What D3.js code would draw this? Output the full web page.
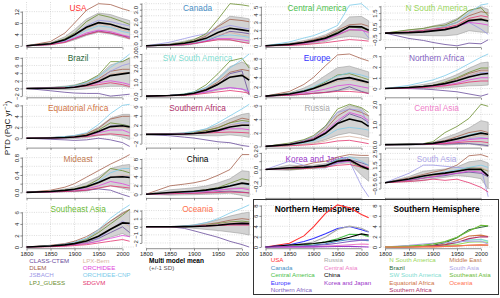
<!DOCTYPE html>
<html>
<head>
<meta charset="utf-8">
<script src="https://cdn.jsdelivr.net/npm/d3@7"></script>
<style>
  body { margin: 0; background: #fff; }
  svg { display: block; font-family: "Liberation Sans", Arial, sans-serif; }
</style>
</head>
<body>
<div id="chart"></div>
<script>
var years = [1800, 1850, 1880, 1900, 1925, 1950, 1975, 2000, 2015];
var xTicks = [1800, 1850, 1900, 1950, 2000];

var models = ["CLASS-CTEM", "DLEM", "JSBACH", "LPJ_GUESS", "LPX-Bern", "ORCHIDEE", "ORCHIDEE-CNP", "SDGVM"];
var modelColors = ["#6a4c9c", "#a5614d", "#9c98e6", "#6b8e2e", "#d8b4a2", "#e046dc", "#7ecbea", "#e3356f"];

var regionNames = ["USA", "Canada", "Central America", "N South America",
  "Brazil", "SW South America", "Europe", "Northern Africa",
  "Equatorial Africa", "Southern Africa", "Russia", "Central Asia",
  "Mideast", "China", "Korea and Japan", "South Asia",
  "Southeast Asia", "Oceania"];
var regionColors = ["#ff3030", "#4a90c6", "#4cbf4c", "#9ad65c",
  "#2e6a3c", "#7fdcd0", "#3434ff", "#8462c2",
  "#cf7444", "#b0306a", "#a8a8a8", "#ee80c8",
  "#c27a50", "#000000", "#9a36c8", "#aea6e6",
  "#6cbb36", "#ff7350"];

// PTD (PgC/yr) per region, one row per model in the order of `models`
var usa = [
  [0, 0.5, 1.5, 2.5, 4.0, 5.2, 4.5, 3.5, 3.0],
  [0, 1.5, 4.5, 8.0, 12.5, 14.8, 14.5, 13.0, 12.3],
  [0, 0.8, 2.2, 4.0, 7.0, 9.0, 8.5, 7.5, 7.0],
  [0, 0.8, 2.5, 4.5, 8.5, 11.0, 10.0, 8.5, 7.5],
  [0, 0.7, 2.0, 3.5, 6.0, 7.5, 7.0, 5.5, 5.0],
  [0, 0.5, 1.5, 2.8, 4.5, 5.5, 5.0, 3.8, 3.2],
  [0, 0.6, 1.8, 3.2, 5.5, 7.0, 6.5, 5.0, 4.5],
  [0, 0.4, 1.2, 2.5, 4.0, 5.0, 4.5, 3.5, 2.5]
];
var canada = [
  [0, 0.05, 0.1, 0.2, 0.4, 0.8, 1.2, 1.1, 1.0],
  [0, 0.1, 0.2, 0.4, 0.8, 1.6, 2.2, 2.1, 2.0],
  [0, 0.3, 0.6, 0.8, 1.0, 1.4, 1.7, 1.5, 1.4],
  [0, 0.1, 0.3, 0.5, 1.0, 2.2, 3.5, 3.4, 3.3],
  [0, 0.05, 0.15, 0.3, 0.5, 0.9, 1.1, 0.9, 0.8],
  [0, 0.05, 0.1, 0.2, 0.4, 0.6, 0.6, 0.5, 0.4],
  [0, 0.05, 0.15, 0.25, 0.5, 0.8, 0.9, 0.8, 0.7],
  [0, 0.05, 0.1, 0.2, 0.35, 0.5, 0.5, 0.3, 0.2]
];
var centralAmerica = [
  [0, 0.1, 0.3, 0.5, 0.8, 1.4, 2.0, 2.0, 1.8],
  [0, 0.2, 0.5, 0.8, 1.2, 2.0, 2.7, 2.8, 2.5],
  [0, 0.2, 0.4, 0.6, 1.0, 1.7, 2.5, 2.2, 1.0],
  [0, 0.2, 0.4, 0.6, 1.0, 1.8, 2.4, 2.3, 2.0],
  [0, 0.1, 0.3, 0.5, 0.8, 1.3, 2.0, 2.0, 1.8],
  [0, 0.1, 0.3, 0.5, 0.8, 1.4, 2.1, 2.0, 1.7],
  [0, 0.5, 1.0, 1.3, 1.9, 2.6, 5.2, 5.4, 4.6],
  [0, 0.05, 0.15, 0.25, 0.4, 0.6, 0.8, 0.7, 0.6]
];
var nSouthAmerica = [
  [0, -0.4, -0.55, -0.7, -0.85, -0.95, -0.75, -0.8, -0.5],
  [0, 0.1, 0.2, 0.3, 0.5, 0.8, 1.3, 1.6, 1.5],
  [0, 0.05, 0.1, 0.2, 0.3, 0.5, 0.8, 0.3, -0.1],
  [0, 0.25, 0.35, 0.5, 0.6, 1.0, 1.7, 1.9, 1.3],
  [0, 0.05, 0.15, 0.25, 0.35, 0.6, 1.0, 1.1, 1.0],
  [0, 0.05, 0.1, 0.2, 0.3, 0.5, 0.8, 0.7, 0.6],
  [0, 0.1, 0.2, 0.3, 0.5, 0.8, 1.5, 2.1, 2.2],
  [0, 0.1, 0.2, 0.3, 0.4, 0.6, 1.1, 1.3, 1.2]
];
var brazil = [
  [0, -0.6, -1.0, -1.2, -1.3, -1.3, -2.0, -1.7, -1.5],
  [0, 0.1, 0.3, 0.6, 1.2, 2.5, 4.5, 5.0, 5.0],
  [0, 0.1, 0.3, 0.5, 1.0, 2.0, 4.5, 6.0, 6.5],
  [0, 0.2, 0.4, 0.7, 1.8, 3.5, 7.0, 7.0, 8.0],
  [0, 0.1, 0.3, 0.5, 1.0, 2.2, 3.8, 4.2, 4.0],
  [0, 0.1, 0.2, 0.4, 0.8, 1.5, 2.0, 1.5, 1.0],
  [0, 0.2, 0.4, 0.7, 1.5, 3.0, 5.5, 7.5, 9.0],
  [0, 0.1, 0.2, 0.3, 0.6, 1.0, 1.5, 1.0, 0.5]
];
var swSouthAmerica = [
  [0, 0.05, 0.1, 0.2, 0.4, 0.8, 1.6, 1.8, 0.1],
  [0, 0.05, 0.1, 0.2, 0.5, 1.0, 1.7, 1.9, 1.8],
  [0, 0.05, 0.1, 0.15, 0.3, 0.5, 0.6, 0.5, 0.4],
  [0, 0.05, 0.15, 0.3, 0.8, 1.6, 2.5, 2.7, 2.0],
  [0, 0.05, 0.1, 0.2, 0.4, 0.9, 1.4, 1.5, 1.3],
  [0, 0.05, 0.1, 0.15, 0.3, 0.5, 0.6, 0.5, 0.3],
  [0, 0.05, 0.15, 0.3, 0.6, 1.2, 2.0, 2.6, 3.0],
  [0, 0.03, 0.05, 0.1, 0.2, 0.3, 0.4, 0.3, 0.2]
];
var europe = [
  [0, 0.2, 0.4, 0.6, 0.8, 1.2, 2.0, 1.0, 0.5],
  [0, 1.0, 2.5, 4.0, 6.5, 8.8, 9.0, 8.0, 7.5],
  [0, 0.4, 1.0, 1.5, 2.5, 3.5, 3.8, 3.2, 3.0],
  [0, 0.5, 1.2, 1.8, 3.0, 4.5, 4.8, 4.0, 3.5],
  [0, 0.4, 1.0, 1.5, 2.3, 3.2, 3.5, 3.0, 2.6],
  [0, 0.3, 0.7, 1.0, 1.5, 2.2, 2.5, 2.0, 1.7],
  [0, 0.5, 1.2, 2.0, 3.2, 4.3, 5.0, 4.5, 4.0],
  [0, 0.2, 0.4, 0.6, 0.8, 1.0, 1.0, 0.8, 0.6]
];
var northernAfrica = [
  [0, 0, -0.05, -0.1, -0.2, -0.3, -0.5, -0.7, -0.5],
  [0, 0.1, 0.2, 0.3, 0.5, 0.9, 1.4, 1.7, 1.7],
  [0, 0.1, 0.2, 0.3, 0.5, 0.8, 1.2, 1.5, 1.5],
  [0, 0.1, 0.2, 0.3, 0.6, 1.0, 1.5, 1.9, 1.9],
  [0, 0.1, 0.2, 0.3, 0.5, 0.8, 1.2, 1.6, 1.6],
  [0, 0.05, 0.1, 0.2, 0.3, 0.5, 0.8, 1.0, 1.0],
  [0, 0.3, 0.6, 0.8, 1.2, 1.7, 2.3, 2.9, 3.2],
  [0, 0.05, 0.1, 0.15, 0.25, 0.4, 0.6, 0.7, 0.7]
];
var equatorialAfrica = [
  [0, -0.2, -0.3, -0.4, -0.3, 0.0, -0.3, -0.8, -1.5],
  [0, 0.1, 0.2, 0.4, 0.8, 1.8, 3.5, 4.0, 4.0],
  [0, 0.1, 0.2, 0.3, 0.5, 1.2, 2.2, 2.5, 2.2],
  [0, 0.1, 0.2, 0.3, 0.6, 1.5, 2.8, 2.5, 2.2],
  [0, 0.1, 0.2, 0.3, 0.6, 1.3, 2.0, 2.0, 1.8],
  [0, 0.05, 0.1, 0.2, 0.4, 1.0, 1.5, 1.5, 1.0],
  [0, 0.1, 0.3, 0.5, 1.0, 2.5, 4.5, 6.0, 6.2],
  [0, 0.05, 0.1, 0.2, 0.3, 0.6, 0.8, 0.6, 0.4]
];
var southernAfrica = [
  [0, -0.3, -0.6, -0.8, -1.2, -1.6, -1.8, -2.4, -2.6],
  [0, 0.1, 0.2, 0.4, 0.8, 1.5, 2.5, 3.5, 3.2],
  [0, 0.1, 0.2, 0.3, 0.6, 1.0, 2.0, 2.5, 2.5],
  [0, 0.1, 0.2, 0.4, 0.8, 1.4, 2.5, 3.0, 2.8],
  [0, 0.1, 0.2, 0.3, 0.6, 1.0, 2.0, 2.2, 2.0],
  [0, 0.05, 0.1, 0.2, 0.4, 0.7, 1.2, 1.2, 1.0],
  [0, 0.1, 0.3, 0.6, 1.2, 2.5, 4.0, 5.5, 6.5],
  [0, 0.05, 0.1, 0.15, 0.3, 0.4, 0.5, 0.4, 0.3]
];
var russia = [
  [0, 0.3, 0.7, 1.0, 2.0, 3.5, 4.8, 4.2, 3.5],
  [0, 0.3, 0.8, 1.2, 2.5, 4.5, 5.5, 5.0, 4.5],
  [0, 0.4, 0.9, 1.4, 3.0, 5.0, 5.5, 5.3, 3.0],
  [0, 0.5, 1.0, 1.6, 3.0, 5.5, 6.2, 5.7, 5.0],
  [0, 0.1, 0.3, 0.4, 0.8, 1.3, 1.5, 1.2, 1.0],
  [0, 0.3, 0.7, 1.1, 2.2, 3.8, 5.0, 4.5, 3.8],
  [0, 0.2, 0.5, 0.8, 1.5, 2.5, 2.8, 2.6, 2.4],
  [0, 0.1, 0.2, 0.3, 0.5, 0.8, 0.9, 0.6, 0.4]
];
var centralAsia = [
  [0, 0, 0, 0.02, 0.03, 0.05, 0.05, 0.0, -0.05],
  [0, 0.02, 0.05, 0.1, 0.2, 0.4, 0.6, 0.7, 0.6],
  [0, 0.01, 0.03, 0.05, 0.1, 0.2, 0.3, 0.35, 0.3],
  [0, 0.02, 0.05, 0.15, 0.6, 0.9, 1.3, 2.0, 1.9],
  [0, 0.01, 0.03, 0.05, 0.1, 0.2, 0.35, 0.45, 0.45],
  [0, 0.01, 0.02, 0.04, 0.08, 0.15, 0.25, 0.3, 0.3],
  [0, 0.02, 0.04, 0.08, 0.15, 0.3, 0.5, 0.6, 0.5],
  [0, 0.01, 0.02, 0.03, 0.05, 0.1, 0.15, 0.15, 0.1]
];
var mideast = [
  [0, 0.01, 0.02, 0.03, 0.05, 0.08, 0.05, -0.05, -0.1],
  [0, 0.05, 0.12, 0.2, 0.35, 0.5, 0.65, 0.78, 0.87],
  [0, 0.02, 0.04, 0.06, 0.12, 0.22, 0.35, 0.38, 0.35],
  [0, 0.02, 0.05, 0.08, 0.15, 0.3, 0.55, 0.5, 0.45],
  [0, 0.02, 0.04, 0.06, 0.1, 0.2, 0.35, 0.4, 0.38],
  [0, 0.01, 0.03, 0.05, 0.08, 0.15, 0.25, 0.2, 0.15],
  [0, 0.02, 0.04, 0.06, 0.12, 0.25, 0.45, 0.55, 0.55],
  [0, 0.01, 0.02, 0.03, 0.05, 0.1, 0.15, 0.12, 0.1]
];
var china = [
  [0, 0.1, 0.2, 0.3, 0.4, 0.6, 0.7, 0.5, 0.3],
  [0, 1.9, 2.3, 2.6, 3.2, 4.3, 5.6, 9.0, 9.0],
  [0, 0.2, 0.3, 0.4, 0.6, 0.9, 1.3, 1.5, 1.3],
  [0, 0.3, 0.5, 0.7, 1.0, 1.5, 2.5, 3.5, 3.2],
  [0, 0.2, 0.3, 0.4, 0.6, 0.8, 1.2, 1.5, 1.3],
  [0, 0.2, 0.3, 0.4, 0.6, 0.9, 1.2, 1.3, 1.0],
  [0, 0.2, 0.4, 0.5, 0.8, 1.2, 2.0, 2.5, 2.0],
  [0, 0.1, 0.2, 0.2, 0.3, 0.4, 0.5, 0.4, 0.3]
];
var koreaJapan = [
  [0, 0.01, 0.02, 0.03, 0.04, 0.08, 0.12, 0.08, 0.05],
  [0, 0.02, 0.05, 0.08, 0.1, 0.15, 0.18, 0.17, 0.17],
  [0, 0.1, 0.05, 0.02, 0.02, 0.08, 0.1, -0.2, -0.33],
  [0, 0, 0.01, 0.02, 0.03, 0.12, 0.1, 0.02, 0],
  [0, 0.01, 0.02, 0.03, 0.05, 0.1, 0.12, 0.05, 0.03],
  [0, 0.01, 0.02, 0.03, 0.05, 0.09, 0.1, 0.05, 0.02],
  [0, 0.01, 0.02, 0.03, 0.05, 0.12, 0.15, 0.1, 0.05],
  [0, 0.01, 0.01, 0.02, 0.03, 0.05, 0.06, 0.03, 0.02]
];
var southAsia = [
  [0, 0.2, 0.4, 0.5, 0.6, 0.8, 0.9, 0.8, 0.5],
  [0, 0.4, 0.7, 0.9, 1.1, 1.5, 2.3, 2.4, 2.2],
  [0, 0.8, 1.5, 1.5, 1.4, 1.3, 1.2, 1.3, -1.2],
  [0, 0.2, 0.4, 0.6, 0.8, 1.0, 1.3, 1.2, 1.0],
  [0, 0.3, 0.5, 0.6, 0.8, 1.0, 1.2, 1.3, 1.0],
  [0, 0.2, 0.4, 0.5, 0.7, 0.8, 1.0, 0.9, 0.6],
  [0, 0.3, 0.5, 0.7, 0.9, 1.1, 1.3, 1.5, 1.3],
  [0, 0.1, 0.2, 0.3, 0.2, 0.3, 0.0, -0.4, -0.8]
];
var southeastAsia = [
  [0, 0.2, 0.4, 0.5, 0.8, 1.5, 2.5, 3.5, 2.5],
  [0, 0.3, 0.6, 1.0, 1.8, 3.0, 4.5, 5.8, 6.5],
  [0, 0.2, 0.4, 0.6, 1.0, 1.5, 3.0, 4.5, 3.8],
  [0, 0.2, 0.4, 0.7, 1.3, 2.5, 4.0, 5.5, 6.5],
  [0, 0.1, 0.3, 0.5, 0.9, 1.8, 3.2, 4.3, 3.5],
  [0, 0.1, 0.2, 0.4, 0.6, 1.0, 1.5, 2.0, 1.8],
  [0, 0.2, 0.5, 0.8, 1.5, 3.0, 5.0, 6.5, 7.3],
  [0, 0.05, 0.15, 0.25, 0.4, 0.7, 1.0, 1.3, 1.0]
];
var oceania = [
  [0, 0, -0.2, -0.5, -0.9, -1.3, -1.8, -2.2, -2.5],
  [0, 0, 0.05, 0.1, 0.3, 0.5, 0.8, 1.0, 0.9],
  [0, 0, 0.05, 0.1, 0.2, 0.3, 0.4, 0.5, 0.4],
  [0, 0, 0.05, 0.1, 0.2, 0.4, 0.6, 0.7, 0.6],
  [0, 0, 0.05, 0.1, 0.2, 0.3, 0.5, 0.5, 0.5],
  [0, 0, 0.03, 0.05, 0.1, 0.2, 0.3, 0.3, 0.3],
  [0, 0, 0.1, 0.2, 0.5, 1.0, 1.7, 2.3, 2.7],
  [0, 0, 0.02, 0.04, 0.1, 0.15, 0.2, 0.2, 0.2]
];

var regionData = [usa, canada, centralAmerica, nSouthAmerica,
  brazil, swSouthAmerica, europe, northernAfrica,
  equatorialAfrica, southernAfrica, russia, centralAsia,
  mideast, china, koreaJapan, southAsia,
  southeastAsia, oceania];

// y tick values, decimals and label step for each region panel
var yTicks = [
  [0, 4, 8, 12], [0, 0.5, 1, 1.5, 2, 2.5, 3, 3.5], [0, 1, 2, 3, 4, 5], [-0.5, 0, 0.5, 1, 1.5, 2],
  [-2, 0, 2, 4, 6, 8], [0, 0.5, 1, 1.5, 2, 2.5, 3], [0, 2, 4, 6, 8], [0, 1, 2, 3],
  [0, 2, 4, 6], [-2, 0, 2, 4, 6], [0, 2, 4, 6], [0, 0.5, 1, 1.5, 2],
  [0, 0.2, 0.4, 0.6, 0.8], [0, 2, 4, 6, 8], [-0.2, -0.1, 0, 0.1, 0.2], [-0.5, 0, 0.5, 1, 1.5, 2, 2.5],
  [0, 2, 4, 6], [-2, -1, 0, 1, 2]
];
var yDigits = [0, 1, 0, 1, 0, 1, 0, 0, 0, 0, 0, 1, 1, 0, 1, 1, 0, 0];
var yLabelStep = [1, 2, 1, 2, 1, 2, 1, 1, 1, 1, 1, 2, 2, 1, 2, 2, 1, 1];

var hemiTicks = [0, 2, 4, 6, 8];
var northIdx = [0, 1, 2, 6, 7, 10, 11, 13, 14];
var southIdx = [3, 4, 5, 8, 9, 12, 15, 16, 17];
var northLegendCols = [["USA", "Canada", "Central America", "Europe", "Northern Africa"],
  ["Russia", "Central Asia", "China", "Korea and Japan"]];
var northLegendIdx = [[0, 1, 2, 6, 7], [10, 11, 13, 14]];
var southLegendCols = [["N South America", "Brazil", "SW South America", "Equatorial Africa", "Southern Africa"],
  ["Middle East", "South Asia", "Southeast Asia", "Oceania"]];
var southLegendIdx = [[3, 4, 5, 8, 9], [12, 15, 16, 17]];

var w = 500;
var h = 298;
var colStep = 119.5;
var plotLeft = 22.4;
var plotW = 111.4;
var rowTop = 2;
var rowStep = 50.3;
var plotH = 45.5;

var svg = d3.select("#chart").append("svg").attr("width", w).attr("height", h);

var x = d3.scaleLinear().domain([1791.4, 2023.6]).range([0, plotW]);

function seriesStats(data) {
  return years.map(function (yr, j) {
    var vals = data.map(function (s) { return s[j]; });
    return { year: yr, mean: d3.mean(vals), sd: d3.deviation(vals) };
  });
}

function padDomain(lo, hi) {
  var p = (hi - lo) * 0.04;
  return [lo - p, hi + p];
}

var stats = regionData.map(seriesStats);

function drawPanel(col, row, spec) {
  var g = svg.append("g")
    .attr("transform", "translate(" + (plotLeft + col * colStep) + "," + (rowTop + row * rowStep) + ")");
  var y = d3.scaleLinear().domain(spec.domain).range([plotH, 0]);
  var fmt = d3.format("." + spec.digits + "f");
  var tickList = spec.ticks.map(function (t, i) {
    return { v: t, label: i % spec.step === 0 ? fmt(t) : "" };
  }).filter(function (t) {
    return t.v >= spec.domain[0] && t.v <= spec.domain[1];
  });

  // dotted grid
  g.selectAll(".gx").data(xTicks).enter().append("line")
    .attr("class", "gx")
    .attr("x1", function (d) { return x(d); })
    .attr("x2", function (d) { return x(d); })
    .attr("y1", 0).attr("y2", plotH)
    .attr("stroke", "#cdcdcd").attr("stroke-width", 0.7).attr("stroke-dasharray", "1,1.3");
  g.selectAll(".gy").data(tickList).enter().append("line")
    .attr("class", "gy")
    .attr("x1", 0).attr("x2", plotW)
    .attr("y1", function (d) { return y(d.v); })
    .attr("y2", function (d) { return y(d.v); })
    .attr("stroke", "#cdcdcd").attr("stroke-width", 0.7).attr("stroke-dasharray", "1,1.3");

  if (spec.stats) {
    var band = d3.area()
      .x(function (d) { return x(d.year); })
      .y0(function (d) { return y(d.mean - d.sd); })
      .y1(function (d) { return y(d.mean + d.sd); });
    g.append("path").datum(spec.stats)
      .attr("d", band)
      .attr("fill", "#d3d3d3")
      .attr("stroke", "#9c9c9c")
      .attr("stroke-width", 0.6);
  }

  g.append("text")
    .attr("x", plotW / 2).attr("y", spec.bold ? 8.5 : 8.8)
    .attr("text-anchor", "middle")
    .attr("font-size", 8.3)
    .attr("font-weight", spec.bold ? "bold" : "normal")
    .attr("fill", spec.titleColor)
    .text(spec.title);

  var line = d3.line()
    .x(function (d, j) { return x(years[j]); })
    .y(function (d) { return y(d); });

  g.selectAll(".series").data(spec.lines).enter().append("path")
    .attr("class", "series")
    .attr("d", function (d) { return line(d.values); })
    .attr("fill", "none")
    .attr("stroke", function (d) { return d.color; })
    .attr("stroke-width", spec.lineWidth);

  if (spec.stats) {
    g.append("path")
      .attr("d", line(spec.stats.map(function (d) { return d.mean; })))
      .attr("fill", "none")
      .attr("stroke", "#000")
      .attr("stroke-width", 1.6);
  }

  // y axis, labels parallel to the axis
  var ya = g.append("g").call(
    d3.axisLeft(y)
      .tickValues(tickList.map(function (t) { return t.v; }))
      .tickSize(2)
      .tickFormat(function (d) {
        var t = tickList.filter(function (k) { return k.v === d; })[0];
        return t ? t.label : "";
      })
  );
  ya.attr("font-family", null).attr("font-size", null);
  ya.select(".domain").remove();
  ya.selectAll("line").attr("stroke", "#444").attr("stroke-width", 0.6);
  ya.selectAll("text")
    .attr("x", 0).attr("y", -3.6).attr("dy", null)
    .attr("text-anchor", "middle")
    .attr("transform", "rotate(-90)")
    .attr("font-size", 6)
    .attr("fill", "#222");
  ya.append("line")
    .attr("x1", 0).attr("x2", 0)
    .attr("y1", y(tickList[0].v)).attr("y2", y(tickList[tickList.length - 1].v))
    .attr("stroke", "#444").attr("stroke-width", 0.6);

  // x axis
  var xa = g.append("g")
    .attr("transform", "translate(0," + plotH + ")")
    .call(
      d3.axisBottom(x)
        .tickValues(xTicks)
        .tickSize(2)
        .tickPadding(1.4)
        .tickFormat(spec.xLabels ? d3.format("d") : function () { return ""; })
    );
  xa.attr("font-family", null).attr("font-size", null);
  xa.select(".domain").remove();
  xa.selectAll("line").attr("stroke", "#444").attr("stroke-width", 0.6);
  xa.selectAll("text").attr("font-size", 5.8).attr("fill", "#222");
  xa.append("line")
    .attr("x1", x(xTicks[0])).attr("x2", x(xTicks[xTicks.length - 1]))
    .attr("y1", 0).attr("y2", 0)
    .attr("stroke", "#444").attr("stroke-width", 0.6);
}

regionData.forEach(function (data, i) {
  var st = stats[i];
  var lo = d3.min([d3.min(data, function (s) { return d3.min(s); }),
    d3.min(st, function (d) { return d.mean - d.sd; })]);
  var hi = d3.max([d3.max(data, function (s) { return d3.max(s); }),
    d3.max(st, function (d) { return d.mean + d.sd; })]);
  drawPanel(i % 4, Math.floor(i / 4), {
    domain: padDomain(lo, hi),
    ticks: yTicks[i],
    digits: yDigits[i],
    step: yLabelStep[i],
    stats: st,
    title: regionNames[i],
    titleColor: regionColors[i],
    lines: data.map(function (s, k) { return { values: s, color: modelColors[k] }; }),
    lineWidth: 0.8,
    xLabels: i >= 16
  });
});

// hemisphere panels: multi model mean of each region
var allMeans = stats.map(function (st) { return st.map(function (d) { return d.mean; }); });
var hemiDomain = padDomain(Math.min(0, d3.min(allMeans, function (m) { return d3.min(m); })),
  d3.max(allMeans, function (m) { return d3.max(m); }));

[[northIdx, "Northern Hemisphere", 2], [southIdx, "Southern Hemisphere", 3]].forEach(function (hp) {
  drawPanel(hp[2], 4, {
    domain: hemiDomain,
    ticks: hemiTicks,
    digits: 0,
    step: 1,
    stats: null,
    title: hp[1],
    titleColor: "#000",
    bold: true,
    lines: hp[0].map(function (i) { return { values: allMeans[i], color: regionColors[i] }; }),
    lineWidth: 1.1,
    xLabels: true
  });
});

// frame around the hemisphere panels
svg.append("rect")
  .attr("x", 253.5).attr("y", 199.5)
  .attr("width", 245).attr("height", 95)
  .attr("fill", "none")
  .attr("stroke", "#333")
  .attr("stroke-width", 1);

// y axis title
svg.append("text")
  .attr("transform", "translate(9.5,128) rotate(-90)")
  .attr("text-anchor", "middle")
  .attr("font-size", 8)
  .attr("fill", "#111")
  .text("PTD (PgC yr")
  .append("tspan").attr("dy", -3).attr("font-size", 5.5).text("\u22121")
  .select(function () { return this.parentNode; })
  .append("tspan").attr("dy", 3).attr("font-size", 8).text(")");

// model legend
var legY = 262.8;
var legStep = 7.3;
models.forEach(function (m, k) {
  svg.append("text")
    .attr("x", k < 4 ? 29.3 : 82.7)
    .attr("y", legY + (k % 4) * legStep)
    .attr("font-size", 6.2)
    .attr("fill", modelColors[k])
    .text(m);
});
svg.append("text")
  .attr("x", 149).attr("y", legY)
  .attr("font-size", 6.5).attr("font-weight", "bold").attr("fill", "#000")
  .text("Multi model mean");
svg.append("text")
  .attr("x", 149).attr("y", legY + legStep)
  .attr("font-size", 6.2).attr("fill", "#555")
  .text("(+/-1 SD)");

// region legends
function regionLegend(cols, idx, xs) {
  cols.forEach(function (names, c) {
    names.forEach(function (name, r) {
      svg.append("text")
        .attr("x", xs[c])
        .attr("y", 262.3 + r * 7.4)
        .attr("font-size", 6.2)
        .attr("fill", regionColors[idx[c][r]])
        .text(name);
    });
  });
}
regionLegend(northLegendCols, northLegendIdx, [270.7, 324]);
regionLegend(southLegendCols, southLegendIdx, [389.3, 449.3]);
</script>
</body>
</html>
